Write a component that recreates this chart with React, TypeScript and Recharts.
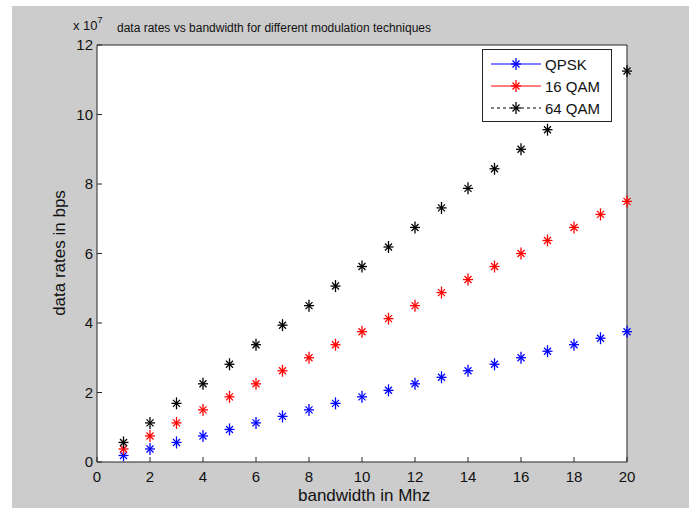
import React from 'react';
import { ScatterChart, Scatter, XAxis, YAxis } from 'recharts';

// bandwidth in MHz
const bandwidth = [1, 2, 3, 4, 5, 6, 7, 8, 9, 10, 11, 12, 13, 14, 15, 16, 17, 18, 19, 20];

// data rates in bps
const qpsk = [
  1875000, 3750000, 5625000, 7500000, 9375000, 11250000, 13125000, 15000000, 16875000, 18750000,
  20625000, 22500000, 24375000, 26250000, 28125000, 30000000, 31875000, 33750000, 35625000, 37500000,
];
const qam16 = [
  3750000, 7500000, 11250000, 15000000, 18750000, 22500000, 26250000, 30000000, 33750000, 37500000,
  41250000, 45000000, 48750000, 52500000, 56250000, 60000000, 63750000, 67500000, 71250000, 75000000,
];
const qam64 = [
  5625000, 11250000, 16875000, 22500000, 28125000, 33750000, 39375000, 45000000, 50625000, 56250000,
  61875000, 67500000, 73125000, 78750000, 84375000, 90000000, 95625000, 101250000, 106875000, 112500000,
];

const xTicks = [0, 2, 4, 6, 8, 10, 12, 14, 16, 18, 20];
const yTicks = [0, 20000000, 40000000, 60000000, 80000000, 100000000, 120000000];

const FONT = '"Liberation Sans", Arial, sans-serif';
const INK = '#262626';

const series = [
  { name: 'QPSK', color: '#0000ff', dash: undefined as string | undefined, values: qpsk },
  { name: '16 QAM', color: '#ff0000', dash: undefined as string | undefined, values: qam16 },
  { name: '64 QAM', color: '#000000', dash: '3 3', values: qam64 },
];

const toPoints = (values: number[]) => bandwidth.map((b, i) => ({ bw: b, rate: values[i] }));

const Star = ({ cx, cy, color }: any) => (
  <g stroke={color} strokeWidth={1.3}>
    <line x1={cx - 5} y1={cy} x2={cx + 5} y2={cy} />
    <line x1={cx} y1={cy - 6} x2={cx} y2={cy + 6} />
    <line x1={cx - 3.5} y1={cy - 3.5} x2={cx + 3.5} y2={cy + 3.5} />
    <line x1={cx - 3.5} y1={cy + 3.5} x2={cx + 3.5} y2={cy - 3.5} />
  </g>
);

// MATLAB style: ticks point into the plot box
const AxisTick = ({ x, y, payload, side }: any) => {
  const len = 5;
  if (side === 'bottom') {
    return (
      <g>
        <line x1={x} y1={y} x2={x} y2={y - len} stroke={INK} />
        <text x={x} y={y + 20} textAnchor="middle" fontSize={15} fontFamily={FONT} fill="#111">
          {payload.value}
        </text>
      </g>
    );
  }
  if (side === 'left') {
    return (
      <g>
        <line x1={x} y1={y} x2={x + len} y2={y} stroke={INK} />
        <text x={x - 4} y={y + 5} textAnchor="end" fontSize={15} fontFamily={FONT} fill="#111">
          {payload.value / 10000000}
        </text>
      </g>
    );
  }
  if (side === 'top') return <line x1={x} y1={y} x2={x} y2={y + len} stroke={INK} />;
  return <line x1={x} y1={y} x2={x - len} y2={y} stroke={INK} />;
};

const LegendBox = () => (
  <div
    style={{
      position: 'absolute',
      left: 470,
      top: 43,
      width: 128,
      height: 71,
      border: `1px solid ${INK}`,
      background: '#fff',
      fontFamily: FONT,
      fontSize: 15,
    }}
  >
    {series.map((s, i) => (
      <div key={s.name} style={{ display: 'flex', alignItems: 'center', height: 22, marginTop: i === 0 ? 3 : 0 }}>
        <svg width={56} height={14} style={{ marginLeft: 6 }}>
          <line x1={2} y1={7} x2={52} y2={7} stroke={s.color} strokeDasharray={s.dash} strokeWidth={1} />
          <Star cx={27} cy={7} color={s.color} />
        </svg>
        <span style={{ color: '#111' }}>{s.name}</span>
      </div>
    ))}
  </div>
);

const App: React.FC = () => {
  return (
    <div style={{ position: 'fixed', left: 0, top: 0, width: 689, height: 508, background: '#fff' }}>
      <div style={{ position: 'absolute', left: 12, top: 6, width: 677, height: 502, background: '#cccccc' }}>
        <ScatterChart width={677} height={502} margin={{ top: 34, right: 57, bottom: 6, left: 45 }}>
          <rect x={85} y={39} width={530} height={417} fill="#fff" />
          <XAxis
            xAxisId={0}
            type="number"
            dataKey="bw"
            domain={[0, 20]}
            ticks={xTicks}
            height={40}
            tickSize={0}
            tickMargin={0}
            tickLine={false}
            axisLine={{ stroke: INK }}
            tick={(p: any) => <AxisTick {...p} side="bottom" />}
            interval={0}
          />
          <XAxis
            xAxisId="top"
            orientation="top"
            type="number"
            domain={[0, 20]}
            ticks={xTicks}
            height={5}
            tickSize={0}
            tickMargin={0}
            tickLine={false}
            axisLine={{ stroke: INK }}
            tick={(p: any) => <AxisTick {...p} side="top" />}
            interval={0}
          />
          <YAxis
            yAxisId={0}
            type="number"
            dataKey="rate"
            domain={[0, 120000000]}
            ticks={yTicks}
            width={40}
            tickSize={0}
            tickMargin={0}
            tickLine={false}
            axisLine={{ stroke: INK }}
            tick={(p: any) => <AxisTick {...p} side="left" />}
            interval={0}
          />
          <YAxis
            yAxisId="right"
            orientation="right"
            type="number"
            domain={[0, 120000000]}
            ticks={yTicks}
            width={5}
            tickSize={0}
            tickMargin={0}
            tickLine={false}
            axisLine={{ stroke: INK }}
            tick={(p: any) => <AxisTick {...p} side="right" />}
            interval={0}
          />
          {series.map((s) => (
            <Scatter
              key={s.name}
              name={s.name}
              data={toPoints(s.values)}
              xAxisId={0}
              yAxisId={0}
              fill={s.color}
              shape={(p: any) => <Star cx={p.cx} cy={p.cy} color={s.color} />}
              isAnimationActive={false}
            />
          ))}
        </ScatterChart>

        <LegendBox />

        {/* title and exponent */}
        <div style={{ position: 'absolute', left: 105, top: 15, fontFamily: FONT, fontSize: 12, color: '#111', whiteSpace: 'nowrap' }}>
          data rates vs bandwidth for different modulation techniques
        </div>
        <div style={{ position: 'absolute', left: 61, top: 11, fontFamily: FONT, fontSize: 13, color: '#111', whiteSpace: 'nowrap' }}>
          x 10<sup style={{ fontSize: 9, position: 'relative', top: -2 }}>7</sup>
        </div>
        {/* axis labels */}
        <div style={{ position: 'absolute', left: 286, top: 480, fontFamily: FONT, fontSize: 17, color: '#111', whiteSpace: 'nowrap' }}>
          bandwidth in Mhz
        </div>
        <div
          style={{
            position: 'absolute',
            left: 48,
            top: 247,
            fontFamily: FONT,
            fontSize: 17,
            color: '#111',
            whiteSpace: 'nowrap',
            transform: 'translate(-50%, -50%) rotate(-90deg)',
          }}
        >
          data rates in bps
        </div>
      </div>
    </div>
  );
};

export default App;
